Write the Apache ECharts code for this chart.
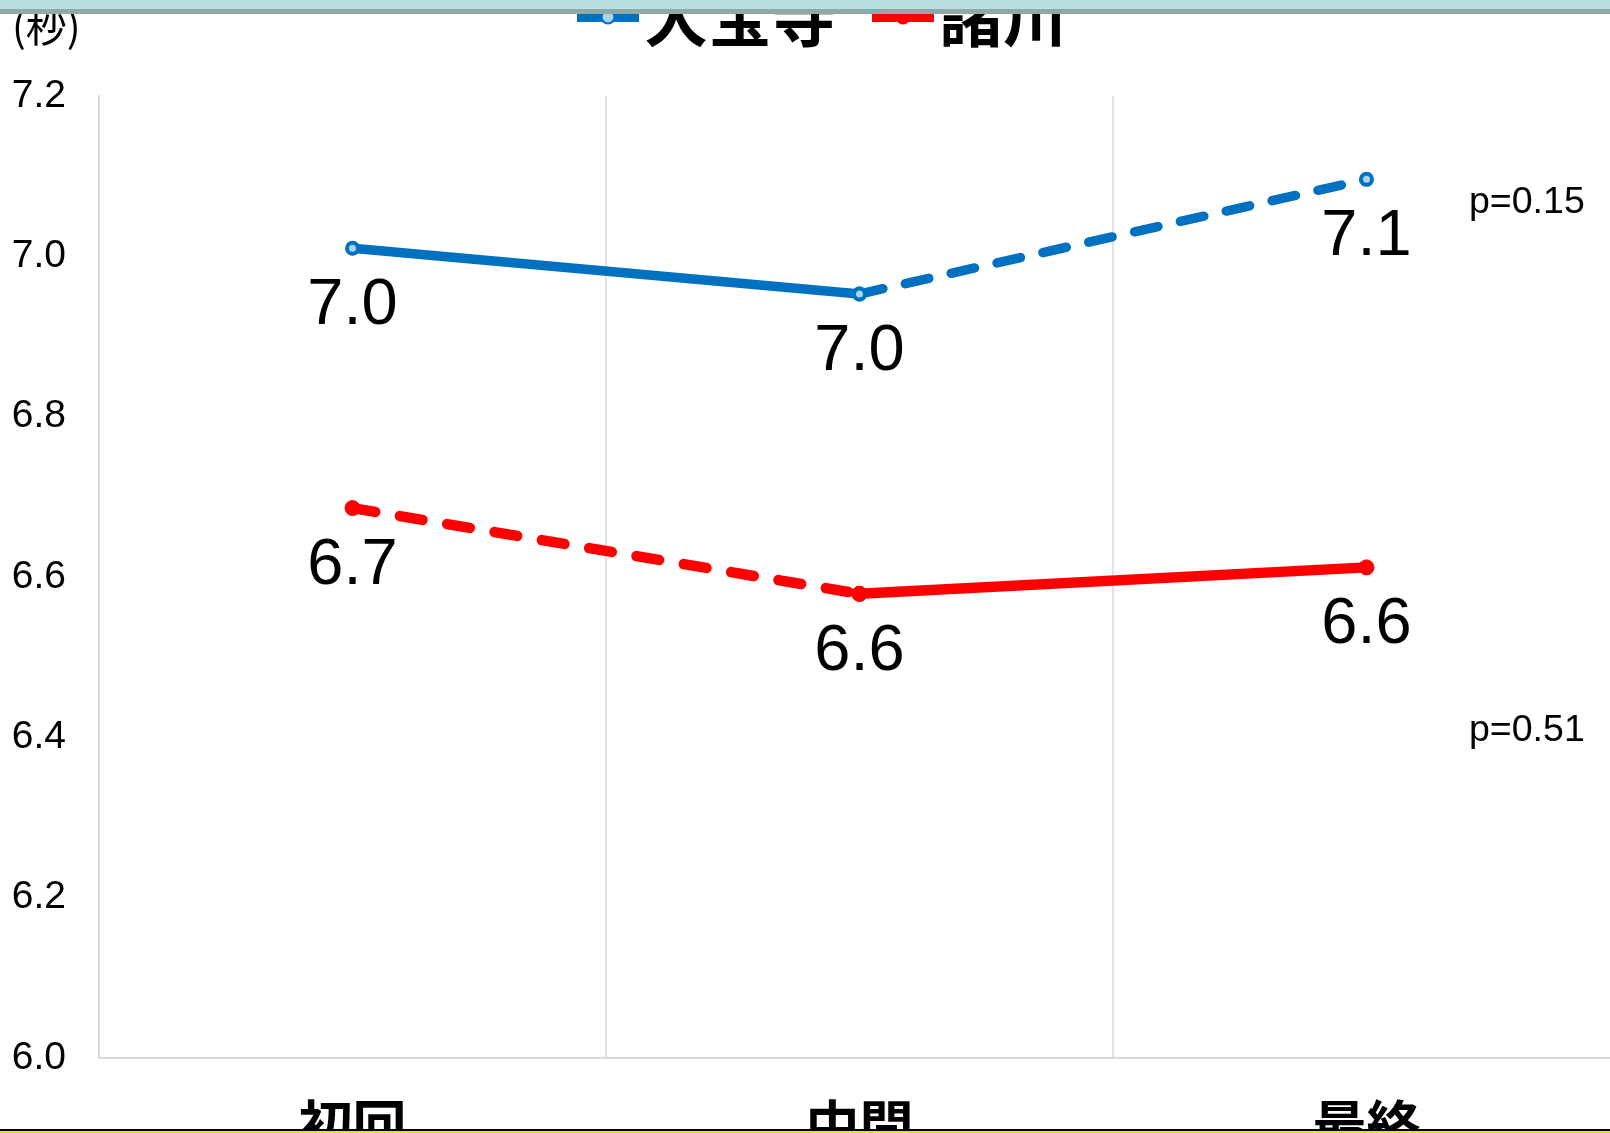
<!DOCTYPE html>
<html>
<head>
<meta charset="utf-8">
<style>
  html, body { margin: 0; padding: 0; background: #ffffff; }
  #chart { width: 1610px; height: 1133px; }
</style>
<script src="https://cdn.jsdelivr.net/npm/echarts@6/dist/echarts.min.js"></script>
</head>
<body>
<div id="chart"></div>
<script>
const categories = ['初回', '中間', '最終'];
const seriesNames = ['大宝寺', '諸川'];
const daihojiValues = [7.01, 6.953, 7.096];
const morokawaValues = [6.686, 6.579, 6.612];
const yTicks = { min: 6.0, max: 7.2, interval: 0.2 };
const unitLabel = '(秒)';
const pLabels = ['p=0.15', 'p=0.51'];

const BLUE = '#0070c0';
const RED = '#ff0000';
const LATIN = '"Liberation Sans", Arial, sans-serif';
const CJK = '"Noto Sans CJK JP", "Noto Sans CJK SC", sans-serif';

// segment helpers: keep points for indices in [from, to], others null
function segment(values, from, to, labelIdx) {
  return values.map((v, i) => {
    if (i < from || i > to) return null;
    return { value: v, label: { show: labelIdx.indexOf(i) >= 0 } };
  });
}

const labelCfg = {
  show: true,
  position: 'inside',
  offset: [0, 58],
  fontSize: 65,
  fontFamily: LATIN,
  color: '#000',
  formatter: p => Number(p.value).toFixed(1)
};

const chart = echarts.init(document.getElementById('chart'), null, { renderer: 'canvas' });

const option = {
  backgroundColor: '#ffffff',
  animation: false,
  grid: { left: 99, right: -10, top: 96, bottom: 75, containLabel: false, outerBoundsMode: 'none' },
  legend: {
    data: seriesNames,
    left: 572,
    top: -15,
    padding: 0,
    itemWidth: 62,
    itemHeight: 16,
    itemGap: 31,
    lineStyle: { width: 10, cap: 'butt' },
    textStyle: { fontSize: 64, fontWeight: 'bold', fontFamily: CJK, color: '#000', lineHeight: 64 }
  },
  xAxis: {
    type: 'category',
    data: categories,
    boundaryGap: true,
    axisLine: { show: true, lineStyle: { color: '#d9d9d9', width: 2 } },
    axisTick: { show: false },
    splitLine: { show: true, lineStyle: { color: '#d9d9d9', width: 1.5 } },
    axisLabel: { fontSize: 54, fontWeight: 'bold', fontFamily: CJK, color: '#000', margin: 40 }
  },
  yAxis: {
    type: 'value',
    min: yTicks.min,
    max: yTicks.max,
    interval: yTicks.interval,
    axisLine: { show: true, lineStyle: { color: '#d9d9d9', width: 2 } },
    axisTick: { show: false },
    splitLine: { show: false },
    axisLabel: {
      fontSize: 39, fontFamily: LATIN, color: '#000', margin: 33,
      padding: [11, 0, 0, 0],
      formatter: v => Number(v).toFixed(1)
    }
  },
  series: [
    {
      name: seriesNames[0], type: 'line',
      data: segment(daihojiValues, 0, 1, [0, 1]),
      lineStyle: { color: BLUE, width: 9.5, cap: 'round' },
      symbol: 'circle', symbolSize: 11,
      itemStyle: { color: '#a8d4f0', borderColor: BLUE, borderWidth: 4 },
      label: labelCfg, z: 3
    },
    {
      name: seriesNames[0], type: 'line',
      data: segment(daihojiValues, 1, 2, [2]),
      lineStyle: { color: BLUE, width: 9.5, type: [24, 23], cap: 'round' },
      symbol: 'circle', symbolSize: 11,
      itemStyle: { color: '#a8d4f0', borderColor: BLUE, borderWidth: 4 },
      label: labelCfg, z: 3
    },
    {
      name: seriesNames[1], type: 'line',
      data: segment(morokawaValues, 1, 2, [1, 2]),
      lineStyle: { color: RED, width: 10.5, cap: 'round' },
      symbol: 'circle', symbolSize: 15,
      itemStyle: { color: RED, borderColor: RED, borderWidth: 1 },
      label: labelCfg, z: 3
    },
    {
      name: seriesNames[1], type: 'line',
      data: segment(morokawaValues, 0, 1, [0]),
      lineStyle: { color: RED, width: 10.5, type: [23, 25], cap: 'round' },
      symbol: 'circle', symbolSize: 15,
      itemStyle: { color: RED, borderColor: RED, borderWidth: 1 },
      label: labelCfg, z: 3
    }
  ],
  graphic: [
    { type: 'text', left: 12, top: 6, z: 50,
      style: { text: unitLabel, fontSize: 41, fontFamily: CJK, fill: '#000' } },
    { type: 'text', left: 1469, top: 184, z: 50,
      style: { text: pLabels[0], fontSize: 37.5, fontFamily: LATIN, fill: '#000' } },
    { type: 'text', left: 1469, top: 712, z: 50,
      style: { text: pLabels[1], fontSize: 37.5, fontFamily: LATIN, fill: '#000' } },
    { type: 'rect', left: 0, top: 0, z: 100,
      shape: { width: 1610, height: 9 }, style: { fill: '#b9dfe3' } },
    { type: 'rect', left: 0, top: 9, z: 100,
      shape: { width: 1610, height: 5 }, style: { fill: '#8fa9a9' } },
    { type: 'rect', left: 0, top: 1129, z: 100,
      shape: { width: 1610, height: 2 }, style: { fill: '#000000' } },
    { type: 'rect', left: 0, top: 1131, z: 100,
      shape: { width: 1610, height: 2 }, style: { fill: '#e6e600' } }
  ]
};

chart.setOption(option);
</script>
</body>
</html>
